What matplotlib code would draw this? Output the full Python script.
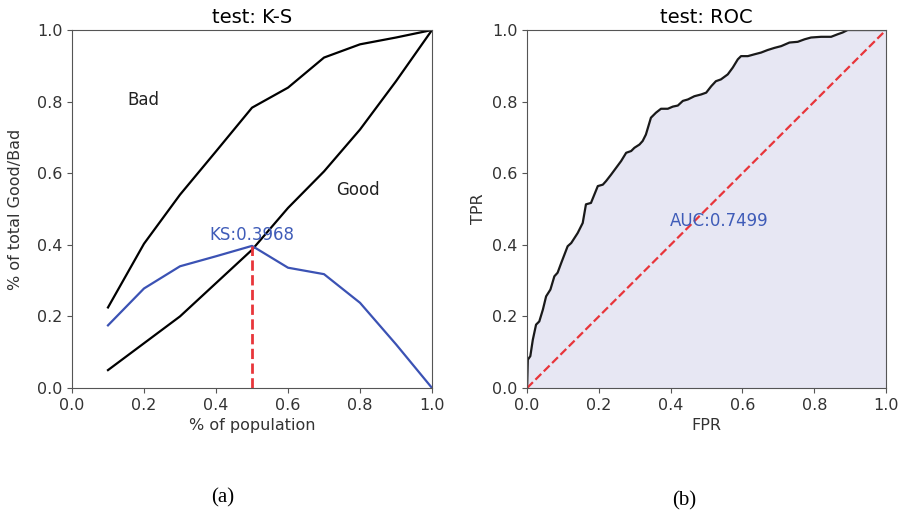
import numpy as np
import matplotlib
matplotlib.use("Agg")
import matplotlib.pyplot as plt

# K-S data (deciles of population)
population = [0.1, 0.2, 0.3, 0.4, 0.5, 0.6, 0.7, 0.8, 0.9, 1.0]
bad_cum = [0.225, 0.403, 0.54, 0.661, 0.783, 0.839, 0.923, 0.96, 0.979, 1.0]
good_cum = [0.05, 0.125, 0.2, 0.293, 0.386, 0.503, 0.605, 0.722, 0.857, 1.0]
ks_value = 0.3968
ks_at = 0.5

# ROC data
fpr = [0.0, 0.002, 0.009, 0.016, 0.025, 0.034, 0.044, 0.053, 0.065, 0.076,
       0.085, 0.095, 0.113, 0.123, 0.141, 0.155, 0.164, 0.178, 0.197, 0.211,
       0.220, 0.234, 0.248, 0.262, 0.276, 0.29, 0.299, 0.313, 0.322, 0.331,
       0.345, 0.359, 0.373, 0.392, 0.406, 0.42, 0.434, 0.448, 0.466, 0.485,
       0.499, 0.513, 0.526, 0.54, 0.559, 0.573, 0.587, 0.596, 0.615, 0.633,
       0.652, 0.67, 0.689, 0.708, 0.731, 0.754, 0.773, 0.791, 0.819, 0.847,
       0.865, 0.879, 0.893, 1.0]
tpr = [0.0, 0.079, 0.089, 0.135, 0.177, 0.186, 0.219, 0.256, 0.275, 0.312,
       0.322, 0.349, 0.396, 0.405, 0.433, 0.461, 0.513, 0.517, 0.564, 0.568,
       0.578, 0.596, 0.615, 0.634, 0.657, 0.662, 0.671, 0.68, 0.69, 0.708,
       0.755, 0.769, 0.78, 0.78, 0.786, 0.789, 0.802, 0.806, 0.815, 0.82,
       0.825, 0.843, 0.857, 0.862, 0.876, 0.895, 0.918, 0.927, 0.927, 0.932,
       0.937, 0.944, 0.95, 0.955, 0.965, 0.967, 0.974, 0.979, 0.981, 0.981,
       0.988, 0.993, 1.0, 1.0]
auc_value = 0.7499

ks_curve = np.array(bad_cum) - np.array(good_cum)

plt.rcParams['axes.edgecolor'] = '#555555'
plt.rcParams['xtick.color'] = '#555555'
plt.rcParams['ytick.color'] = '#555555'
plt.rcParams['xtick.labelcolor'] = '#333333'
plt.rcParams['ytick.labelcolor'] = '#333333'
plt.rcParams['xtick.labelsize'] = 11.5
plt.rcParams['ytick.labelsize'] = 11.5
plt.rcParams['axes.labelsize'] = 11.5
plt.rcParams['font.size'] = 12

fig = plt.figure(figsize=(9.01, 5.19), dpi=100)
ax1 = fig.add_axes([0.0799, 0.2524, 0.3996, 0.6898])
ax2 = fig.add_axes([0.585, 0.2524, 0.3984, 0.6898])

# K-S chart
ax1.plot(population, bad_cum, color="black", lw=1.6)
ax1.plot(population, good_cum, color="black", lw=1.6)
ax1.plot(population, ks_curve, color="#3b52b4", lw=1.6)
ax1.plot([ks_at, ks_at], [0, ks_value], color="#e8353a", ls="--", lw=2)
ax1.text(ks_at, ks_value + 0.006, "KS:%.4f" % ks_value, color="#3f5cb8",
         ha="center", va="bottom", fontsize=12)
ax1.text(0.155, 0.79, "Bad", fontsize=12, color="#222222")
ax1.text(0.735, 0.54, "Good", fontsize=12, color="#222222")
ax1.set_xlim(0, 1)
ax1.set_ylim(0, 1)
ax1.set_title("test: K-S", fontsize=14, pad=5)
ax1.set_xlabel("% of population", color="#333333")
ax1.set_ylabel("% of total Good/Bad", color="#333333", labelpad=10)

# ROC chart
ax2.fill_between(fpr, tpr, color="#e7e7f3")
ax2.plot(fpr, tpr, color="#1a1a1a", lw=1.6)
ax2.plot([0, 1], [0, 1], color="#e8353a", ls="--", lw=1.6)
ax2.text(0.535, 0.466, "AUC:%.4f" % auc_value, color="#3f5cb8",
         ha="center", va="center", fontsize=12)
ax2.set_xlim(0, 1)
ax2.set_ylim(0, 1)
ax2.set_title("test: ROC", fontsize=14, pad=5)
ax2.set_xlabel("FPR", color="#333333")
ax2.set_ylabel("TPR", color="#333333")

fig.text(0.2475, 0.041, "(a)", family="Liberation Serif", fontsize=15,
         ha="center", va="center")
fig.text(0.759, 0.035, "(b)", family="Liberation Serif", fontsize=15,
         ha="center", va="center")

fig.savefig("out.png", dpi=100)
